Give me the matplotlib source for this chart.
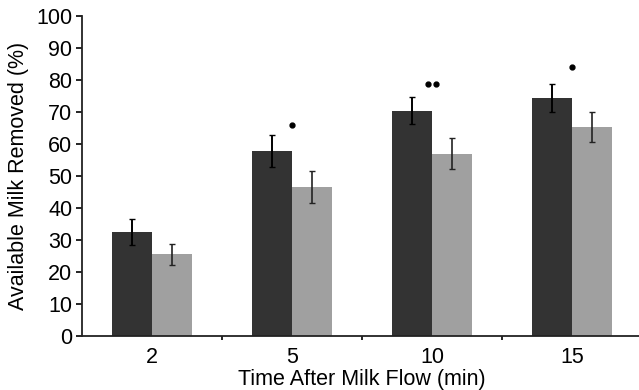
import numpy as np
import matplotlib
matplotlib.use("Agg")
import matplotlib.pyplot as plt

# valori
tempi = ["2", "5", "10", "15"]
scuro = [32.4, 57.9, 70.4, 74.4]
scuro_err = [4.1, 5.0, 4.3, 4.3]
chiaro = [25.5, 46.7, 57.0, 65.3]
chiaro_err = [3.4, 5.0, 4.8, 4.7]
# asterischi (punti) sopra i gruppi: numero di punti e altezza
punti_n = [0, 1, 2, 1]
punti_y = [None, 66.0, 78.6, 84.0]

plt.rcParams['font.family'] = ['Liberation Sans', 'DejaVu Sans']

fig = plt.figure(figsize=(6.39, 3.90), dpi=100)
ax = fig.add_axes([82/639, 54/390, 560/639, 320/390])

x = np.arange(len(tempi))
w = 0.2857
ax.bar(x - w/2, scuro, w, color="#333333", zorder=2)
ax.bar(x + w/2, chiaro, w, color="#a0a0a0", zorder=2)
ax.errorbar(x - w/2, scuro, yerr=scuro_err, fmt="none", ecolor="black",
            elinewidth=1.4, capsize=2, capthick=1.0, zorder=3)
ax.errorbar(x + w/2, chiaro, yerr=chiaro_err, fmt="none", ecolor="#222222",
            elinewidth=1.2, capsize=2, capthick=1.0, zorder=3)

for i, (n, yy) in enumerate(zip(punti_n, punti_y)):
    if n == 0:
        continue
    offs = [0.0] if n == 1 else [-0.028, 0.028]
    for o in offs:
        ax.plot(x[i] + o, yy, "o", color="black", markersize=3.5, zorder=4)

ax.set_xlim(-0.5, len(tempi) - 0.5)
ax.set_ylim(0, 100)
ax.set_yticks(np.arange(0, 101, 10))
ax.set_xticks(x)
ax.set_xticklabels(tempi)
ax.set_xticks(np.arange(0.5, len(tempi) - 0.5, 1), minor=True)

for s in ["top", "right"]:
    ax.spines[s].set_visible(False)
for s in ["left", "bottom"]:
    ax.spines[s].set_linewidth(1.3)
    ax.spines[s].set_color("#222222")

ax.tick_params(axis="y", direction="out", length=4, width=1.2, labelsize=15.5, pad=3)
ax.tick_params(axis="x", which="major", length=0, labelsize=15.5, pad=8)
ax.tick_params(axis="x", which="minor", direction="out", length=3, width=1.2)

ax.set_xlabel("Time After Milk Flow (min)", fontsize=15.5, labelpad=1)
ax.set_ylabel("Available Milk Removed (%)", fontsize=15.5, labelpad=5)

fig.savefig("out.png", dpi=100)
